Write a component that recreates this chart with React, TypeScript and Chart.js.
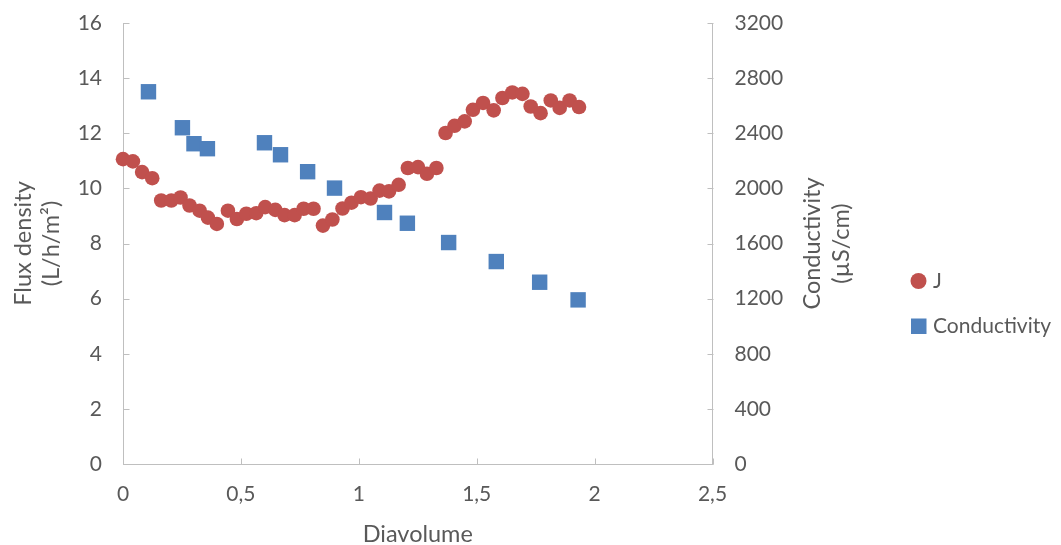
import { useEffect, useRef } from "react";
import { Chart, registerables } from "chart.js";

Chart.register(...registerables);

// ---- data ----
const jDiavolume = [
  0.0, 0.042, 0.081, 0.124, 0.162, 0.205, 0.244, 0.282, 0.325, 0.36,
  0.398, 0.445, 0.483, 0.523, 0.565, 0.603, 0.646, 0.685, 0.728, 0.766,
  0.808, 0.848, 0.888, 0.931, 0.969, 1.009, 1.05, 1.088, 1.128, 1.169,
  1.208, 1.251, 1.289, 1.329, 1.368, 1.406, 1.449, 1.484, 1.527, 1.572,
  1.609, 1.651, 1.694, 1.729, 1.771, 1.814, 1.852, 1.894, 1.934,
];
const jFlux = [
  11.06, 10.98, 10.59, 10.37, 9.56, 9.56, 9.67, 9.38, 9.19, 8.94,
  8.71, 9.19, 8.89, 9.08, 9.1, 9.32, 9.22, 9.03, 9.03, 9.26,
  9.26, 8.65, 8.87, 9.27, 9.48, 9.68, 9.63, 9.92, 9.89, 10.13,
  10.74, 10.77, 10.53, 10.74, 12.01, 12.27, 12.43, 12.85, 13.1, 12.83,
  13.28, 13.48, 13.43, 12.97, 12.73, 13.19, 12.92, 13.19, 12.95,
];
const condDiavolume = [
  0.108, 0.252, 0.301, 0.358, 0.6, 0.668, 0.783, 0.897, 1.109, 1.206,
  1.381, 1.583, 1.767, 1.93,
];
const conductivity = [
  2701, 2440, 2324, 2288, 2331, 2244, 2121, 2002, 1825, 1747,
  1607, 1469, 1319, 1191,
];

const xTicks = [0, 0.5, 1, 1.5, 2, 2.5];
const fluxTicks = [0, 2, 4, 6, 8, 10, 12, 14, 16];
const condTicks = [0, 400, 800, 1200, 1600, 2000, 2400, 2800, 3200];

const seriesNames = ["J", "Conductivity"];
const xTitle = "Diavolume";
const fluxTitle = ["Flux density", "(L/h/m²)"];
const condTitle = ["Conductivity", "(µS/cm)"];

const RED = "#C0504D";
const BLUE = "#4F81BD";
const TEXT = "#595959";
const AXIS = "#BFBFBF";
const FONT = "Lato";
const FSIZE = 21;
const TSIZE = 23.5;

const decorPlugin = {
  id: "decor",
  afterDraw(chart: any) {
    const ctx = chart.ctx as CanvasRenderingContext2D;
    const x = chart.scales.x;
    const y = chart.scales.y;
    const y1 = chart.scales.y1;
    const { left, right, top, bottom } = chart.chartArea;
    ctx.save();
    // inward tick marks
    ctx.strokeStyle = AXIS;
    ctx.lineWidth = 1;
    ctx.beginPath();
    const L = Math.round(left) + 0.5;
    const R = Math.round(right) + 0.5;
    const B = Math.round(bottom) + 0.5;
    fluxTicks.forEach((v) => {
      const py = Math.round(y.getPixelForValue(v)) + 0.5;
      ctx.moveTo(L, py);
      ctx.lineTo(L + 6, py);
    });
    condTicks.forEach((v) => {
      const py = Math.round(y1.getPixelForValue(v)) + 0.5;
      ctx.moveTo(R, py);
      ctx.lineTo(R - 6, py);
    });
    xTicks.forEach((v) => {
      const px = Math.round(x.getPixelForValue(v)) + 0.5;
      ctx.moveTo(px, B);
      ctx.lineTo(px, B - 6);
    });
    ctx.stroke();

    // titles
    ctx.fillStyle = TEXT;
    ctx.font = `${TSIZE}px ${FONT}`;
    ctx.textAlign = "center";
    ctx.textBaseline = "middle";
    const midY = (top + bottom) / 2;
    const drawRot = (text: string, cx: number) => {
      ctx.save();
      ctx.translate(cx, midY);
      ctx.rotate(-Math.PI / 2);
      ctx.fillText(text, 0, 0);
      ctx.restore();
    };
    drawRot(fluxTitle[0], 23);
    drawRot(fluxTitle[1], 51);
    drawRot(condTitle[0], 812);
    drawRot(condTitle[1], 841);
    ctx.fillText(xTitle, (left + right) / 2, 534);

    // legend
    ctx.font = `${FSIZE}px ${FONT}`;
    ctx.textAlign = "left";
    ctx.fillStyle = RED;
    ctx.beginPath();
    ctx.arc(918.5, 281, 8, 0, Math.PI * 2);
    ctx.fill();
    ctx.fillStyle = BLUE;
    ctx.fillRect(911, 318.5, 15.5, 15.5);
    ctx.fillStyle = TEXT;
    ctx.fillText(seriesNames[0], 933, 281);
    ctx.fillText(seriesNames[1], 933, 326);
    ctx.restore();
  },
};

export default function App() {
  const ref = useRef<HTMLCanvasElement | null>(null);
  useEffect(() => {
    if (!ref.current) return;
    const tickFont = { family: FONT, size: FSIZE };
    const chart = new Chart(ref.current, {
      type: "scatter",
      data: {
        datasets: [
          {
            label: seriesNames[0],
            data: jDiavolume.map((v, i) => ({ x: v, y: jFlux[i] })),
            yAxisID: "y",
            pointStyle: "circle",
            pointRadius: 7.3,
            pointBorderWidth: 0,
            backgroundColor: RED,
            borderColor: RED,
            order: 1,
            clip: false,
          },
          {
            label: seriesNames[1],
            data: condDiavolume.map((v, i) => ({ x: v, y: conductivity[i] })),
            yAxisID: "y1",
            pointStyle: "rect",
            pointRadius: 10.9,
            pointBorderWidth: 0,
            backgroundColor: BLUE,
            borderColor: BLUE,
            order: 0,
            clip: false,
          },
        ] as any,
      },
      options: {
        responsive: false,
        animation: false,
        events: [],
        layout: { padding: { top: 23, left: 0, right: 0, bottom: 0 } },
        plugins: { legend: { display: false }, tooltip: { enabled: false } },
        scales: {
          x: {
            type: "linear",
            min: 0,
            max: 2.5,
            afterBuildTicks: (s: any) => {
              s.ticks = xTicks.map((v) => ({ value: v }));
            },
            ticks: {
              font: tickFont,
              color: TEXT,
              padding: 18,
              maxRotation: 0,
              callback: (v: any) => String(v).replace(".", ","),
            },
            grid: { display: false, drawTicks: false },
            border: { display: true, color: AXIS, width: 1 },
            afterFit: (s: any) => {
              s.height = 81;
              s.paddingLeft = 0;
              s.paddingRight = 0;
            },
          },
          y: {
            type: "linear",
            position: "left",
            min: 0,
            max: 16,
            afterBuildTicks: (s: any) => {
              s.ticks = fluxTicks.map((v) => ({ value: v }));
            },
            ticks: { font: tickFont, color: TEXT, padding: 21, callback: (v: any) => String(v) },
            grid: { display: false, drawTicks: false },
            border: { display: true, color: AXIS, width: 1 },
            afterFit: (s: any) => {
              s.width = 123;
              s.paddingTop = 0;
              s.paddingBottom = 0;
            },
          },
          y1: {
            type: "linear",
            position: "right",
            min: 0,
            max: 3200,
            afterBuildTicks: (s: any) => {
              s.ticks = condTicks.map((v) => ({ value: v }));
            },
            ticks: { font: tickFont, color: TEXT, padding: 22, callback: (v: any) => String(v) },
            grid: { display: false, drawTicks: false },
            border: { display: true, color: AXIS, width: 1 },
            afterFit: (s: any) => {
              s.width = 348.5;
              s.paddingTop = 0;
              s.paddingBottom = 0;
            },
          },
        },
      } as any,
      plugins: [decorPlugin],
    });
    return () => chart.destroy();
  }, []);
  return (
    <div style={{ position: "absolute", left: 0, top: 0, width: 1061, height: 545, background: "#fff" }}>
      <canvas ref={ref} width={1061} height={545} style={{ display: "block" }} />
    </div>
  );
}
